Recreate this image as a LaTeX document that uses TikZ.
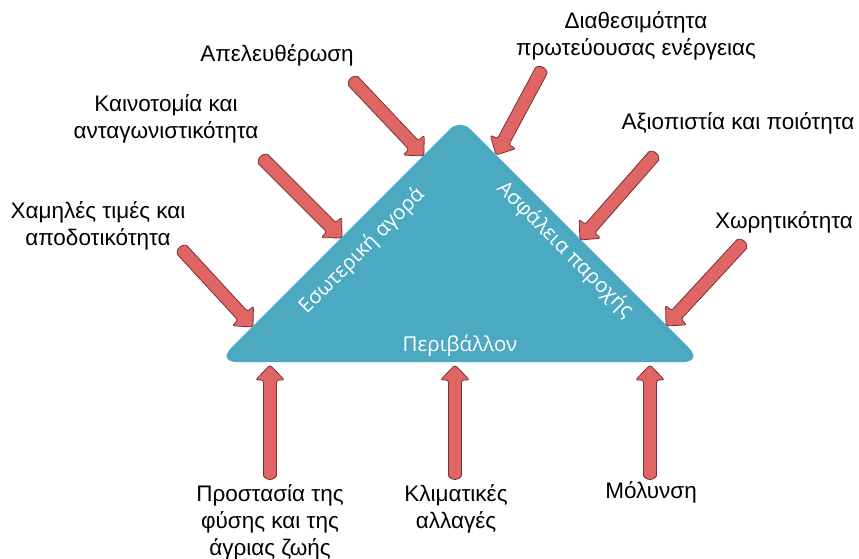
\documentclass[tikz,border=0pt]{standalone}
\usepackage{fontspec}
\setmainfont{Liberation Sans}
\newfontfamily\tribfont{Open Sans}
\usetikzlibrary{calc}

\definecolor{triblue}{HTML}{4BA9C2}
\definecolor{arrfill}{HTML}{E06666}
\definecolor{arredge}{HTML}{7A2E2E}

\tikzset{
  label/.style={font=\fontsize{22.5}{27}\selectfont, align=center, inner sep=0pt},
  sidetext/.style={font=\tribfont\fontsize{20.5}{24}\selectfont, text=white, inner sep=0pt},
  arrowbody/.style={fill=arrfill, draw=arredge, line width=0.8pt, rounded corners=2.5pt},
}

% block arrow from coordinate #1 (tail) to coordinate #2 (tip)
\newcommand\blockarrow[2]{%
  \pgfpointdiff{\pgfpointanchor{#1}{center}}{\pgfpointanchor{#2}{center}}%
  \pgfgetlastxy{\adx}{\ady}%
  \pgfmathsetmacro\aang{atan2(\ady,\adx)}%
  \pgfmathsetmacro\alen{veclen(\adx,\ady)}%
  \begin{scope}[shift={(#1)}, rotate=\aang]
    \draw[arrowbody] (0pt,6.5pt) arc[start angle=90, end angle=270, radius=6.5pt]
      -- ({\alen pt-15pt},-6.5pt) -- ({\alen pt-15pt},-14.5pt) -- ({\alen pt},0pt)
      -- ({\alen pt-15pt},14.5pt) -- ({\alen pt-15pt},6.5pt) -- cycle;
  \end{scope}}

\begin{document}
\begin{tikzpicture}[x=1pt, y=-1pt]
  \useasboundingbox (0,0) rectangle (859,559);

  % central triangle: softer base corners than apex
  \fill[triblue] (460,119) [rounded corners=20pt] -- (703,362) -- (217,362)
    [rounded corners=14pt] -- cycle;
  \node[sidetext, rotate=45]  (inner) at (362,251) {Εσωτερική αγορά};
  \node[sidetext, rotate=-45] (supply) at (565,250) {Ασφάλεια παροχής};
  \node[sidetext]             (env) at (460,346) {Περιβάλλον};

  % outer factors
  \node[label] (lib)   at (277,55)  {Απελευθέρωση};
  \node[label] (avail) at (636,36)  {Διαθεσιμότητα\\πρωτεύουσας ενέργειας};
  \node[label] (innov) at (166,119) {Καινοτομία και\\ανταγωνιστικότητα};
  \node[label] (rel)   at (738,123) {Αξιοπιστία και ποιότητα};
  \node[label] (price) at (98,226)  {Χαμηλές τιμές και\\αποδοτικότητα};
  \node[label] (cap)   at (784,222) {Χωρητικότητα};
  \node[label] (nat)   at (270,522) {Προστασία της\\φύσης και της\\άγριας ζωής};
  \node[label] (clim)  at (456,509) {Κλιματικές\\αλλαγές};
  \node[label] (poll)  at (651,492) {Μόλυνση};

  % arrow ends
  \coordinate (t1) at (355,83);  \coordinate (h1) at (424,156);
  \coordinate (t2) at (540,73);  \coordinate (h2) at (496,155);
  \coordinate (t3) at (265,161); \coordinate (h3) at (342,238);
  \coordinate (t4) at (652,158); \coordinate (h4) at (580,240);
  \coordinate (t5) at (184,252); \coordinate (h5) at (253,327);
  \coordinate (t6) at (740,246); \coordinate (h6) at (666,326);
  \coordinate (t7) at (270,473); \coordinate (h7) at (270,365);
  \coordinate (t8) at (455,473); \coordinate (h8) at (455,365);
  \coordinate (t9) at (650,473); \coordinate (h9) at (650,365);

  \blockarrow{t1}{h1}
  \blockarrow{t2}{h2}
  \blockarrow{t3}{h3}
  \blockarrow{t4}{h4}
  \blockarrow{t5}{h5}
  \blockarrow{t6}{h6}
  \blockarrow{t7}{h7}
  \blockarrow{t8}{h8}
  \blockarrow{t9}{h9}
\end{tikzpicture}
\end{document}
